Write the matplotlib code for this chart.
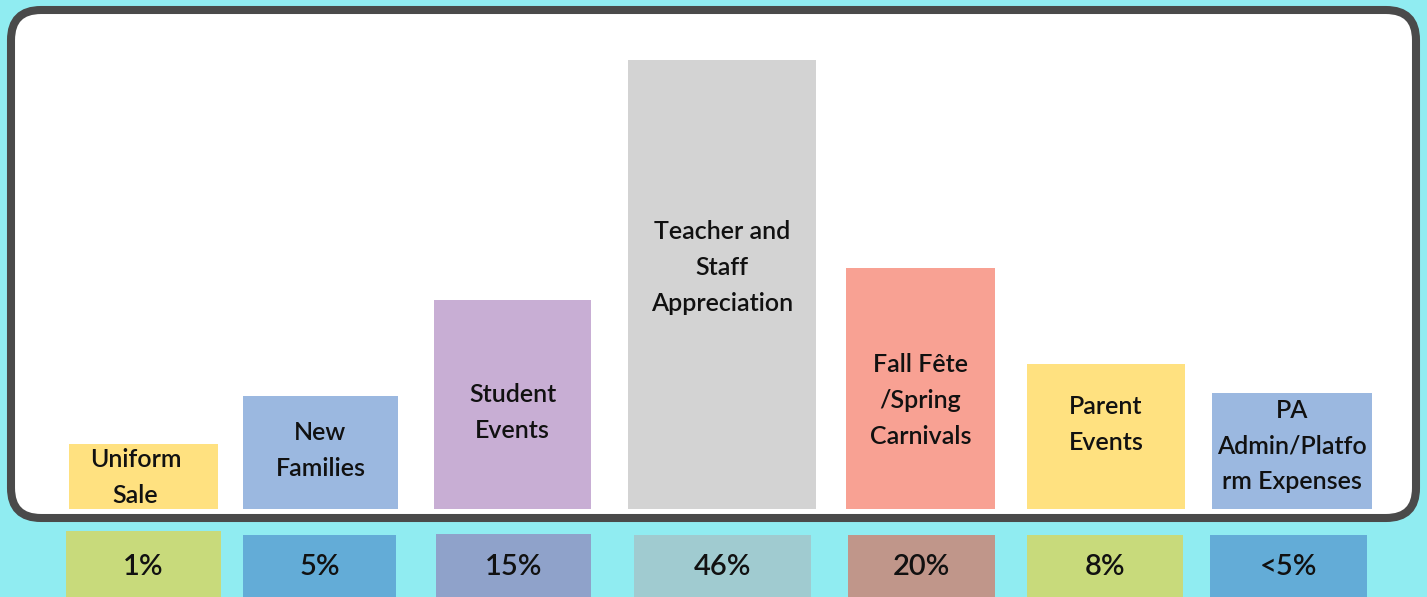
import matplotlib
matplotlib.use("Agg")
import matplotlib.pyplot as plt
from matplotlib.patches import FancyBboxPatch

# data
categories = ["Uniform\nSale", "New\nFamilies", "Student\nEvents",
              "Teacher and\nStaff\nAppreciation", "Fall Fête\n/Spring\nCarnivals",
              "Parent\nEvents", "PA\nAdmin/Platfo\nrm Expenses"]
bar_heights = [65, 113, 209, 449, 241, 145, 116]
pct_labels = ["1%", "5%", "15%", "46%", "20%", "8%", "<5%"]

# layout (pixel units, y measured up from the bottom edge)
W, H = 1427, 597
bar_lefts = [69, 243, 434, 628, 846, 1027, 1212]
bar_widths = [149, 155, 157, 188, 149, 158, 160]
label_dy = [-1, 2, -8, 17, -12, 12, 5]
label_dx = [-8, 0, 0, 0, 0, 0, 0]
base_y = H - 509
pct_lefts = [66, 243, 436, 634, 848, 1027, 1210]
pct_widths = [155, 153, 155, 177, 147, 156, 157]
pct_tops = [66, 62, 63, 62, 62, 62, 62]

bar_colors = ["#FFE180", "#9BB8E0", "#C8AED4", "#D3D3D3", "#F8A193", "#FFE180", "#9BB8E0"]
pct_colors = ["#C8DA7B", "#63ACD7", "#8FA2CA", "#A0CBD0", "#C0968A", "#C8DA7B", "#63ACD7"]
bg = "#90ECF1"

plt.rcParams['font.family'] = ['Lato', 'DejaVu Sans']

fig = plt.figure(figsize=(W / 100, H / 100), dpi=100)
fig.patch.set_facecolor(bg)
ax = fig.add_axes([0, 0, 1, 1])
ax.set_xlim(0, W)
ax.set_ylim(0, H)
ax.axis('off')

# white rounded panel
panel = FancyBboxPatch((11, H - 518), 1405, 508,
                       boxstyle="round,pad=0,rounding_size=30",
                       facecolor="white", edgecolor="#4A4A4A", linewidth=5.8, zorder=1)
ax.add_patch(panel)

centers = [l + w / 2 for l, w in zip(bar_lefts, bar_widths)]
ax.bar(centers, bar_heights, width=bar_widths, bottom=base_y,
       color=bar_colors, zorder=2)
for cx, h, lab, dy, dx in zip(centers, bar_heights, categories, label_dy, label_dx):
    ax.text(cx + dx, base_y + h / 2 + dy, lab, ha="center", va="center",
            fontsize=18, fontweight="semibold", linespacing=1.68,
            color="#111111", zorder=3)

pct_centers = [l + w / 2 for l, w in zip(pct_lefts, pct_widths)]
ax.bar(pct_centers, pct_tops, width=pct_widths, bottom=0,
       color=pct_colors, zorder=2)
for cx, lab in zip(pct_centers, pct_labels):
    ax.text(cx, H - 567, lab, ha="center", va="center",
            fontsize=21, fontweight="semibold", color="#111111", zorder=3)

fig.savefig("out.png", dpi=100, facecolor=bg)
